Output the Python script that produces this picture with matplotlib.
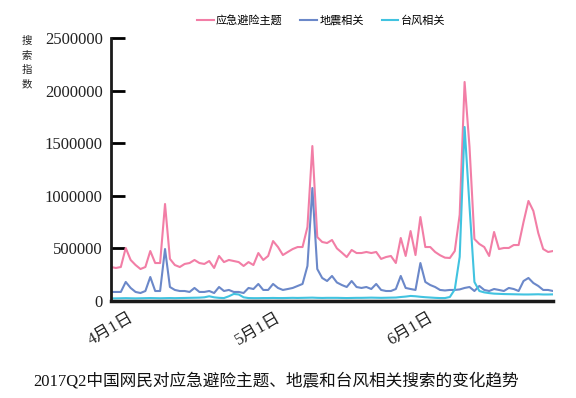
import matplotlib
matplotlib.use("Agg")
import matplotlib.pyplot as plt
import matplotlib.dates as mdates
import pandas as pd

plt.rcParams['font.family'] = ['Liberation Serif', 'Noto Sans CJK SC', 'DejaVu Sans']

dates = pd.date_range("2017-04-01", "2017-06-30", freq="D")

emergency = [323, 314, 323, 504, 390, 342, 304, 323, 475, 361,
             361, 922, 400, 342, 323, 352, 361, 390, 361, 352,
             380, 314, 428, 370, 390, 380, 370, 333, 370, 342,
             456, 390, 428, 570, 513, 437, 466, 494, 513, 513,
             703, 1473, 608, 561, 551, 580, 500, 460, 418, 485,
             456, 456, 466, 456, 466, 400, 418, 428, 361, 599,
             428, 665, 437, 798, 513, 513, 466, 435, 412, 409,
             475, 820, 2082, 1464, 589, 542, 513, 428, 656, 494,
             504, 504, 532, 532, 751, 951, 856, 646, 494, 466, 475]

quake = [86, 86, 86, 181, 124, 86, 76, 95, 228, 95,
         95, 494, 133, 105, 95, 95, 86, 124, 86, 86,
         95, 76, 133, 95, 105, 86, 86, 76, 124, 114,
         162, 105, 105, 162, 124, 105, 114, 124, 143, 162,
         333, 1074, 304, 219, 190, 238, 176, 152, 133, 190,
         133, 124, 133, 114, 162, 105, 95, 95, 114, 238,
         124, 114, 105, 361, 181, 152, 133, 105, 100, 105,
         105, 110, 124, 133, 95, 143, 105, 95, 114, 105,
         95, 124, 114, 95, 190, 219, 171, 143, 105, 105, 95]

typhoon = [25, 25, 26, 27, 26, 25, 26, 27, 28, 27,
           26, 27, 28, 27, 28, 29, 30, 31, 32, 35,
           45, 35, 30, 28, 45, 67, 62, 35, 28, 27,
           27, 28, 28, 29, 28, 28, 29, 30, 29, 30,
           31, 32, 30, 29, 30, 30, 30, 29, 28, 29,
           30, 30, 31, 32, 31, 30, 31, 32, 33, 38,
           42, 48, 45, 40, 36, 33, 30, 28, 28, 38,
           110, 420, 1654, 900, 181, 95, 82, 75, 70, 68,
           66, 65, 64, 63, 62, 62, 63, 64, 62, 62, 63]

series_names = ["应急避险主题", "地震相关", "台风相关"]
colors = ["#F27EA6", "#6B88C9", "#41C3E0"]
yticks = [0, 500000, 1000000, 1500000, 2000000, 2500000]
xtick_dates = ["2017-04-01", "2017-05-01", "2017-06-01"]
xtick_labels = ["4月1日", "5月1日", "6月1日"]
title = "2017Q2中国网民对应急避险主题、地震和台风相关搜索的变化趋势"
ylabel = "搜索指数"

fig = plt.figure(figsize=(5.76, 3.98), dpi=100)
ax = fig.add_axes([111/576, 1-301/398, (553-111)/576, (301-38)/398])

for vals, name, c in zip([emergency, quake, typhoon], series_names, colors):
    ax.plot(dates, [v * 1000 for v in vals], color=c, lw=1.5, label=name)

ax.set_xlim(dates[0], dates[-1])
ax.set_ylim(0, 2500000)
ax.set_yticks(yticks)
ax.set_yticklabels([str(v) for v in yticks], fontsize=12, color="#222222")
ax.set_xticks(pd.to_datetime(xtick_dates))
ax.set_xticklabels(xtick_labels, fontsize=12, rotation=30, ha="center", color="#222222")
ax.tick_params(axis="y", direction="in", length=10, width=2, pad=6)
ax.tick_params(axis="x", length=0, pad=6)
for s in ["top", "right"]:
    ax.spines[s].set_visible(False)
ax.spines["left"].set_linewidth(2)
ax.spines["bottom"].set_linewidth(2.5)
ax.spines["left"].set_color("#1a1a1a")
ax.spines["bottom"].set_color("#1a1a1a")

fig.legend(loc="center", bbox_to_anchor=(321/576, 1-20/398), ncol=3, frameon=False,
           prop={"family": ["Noto Sans CJK SC"], "size": 8},
           handlelength=1.5, handletextpad=0.2, columnspacing=1.6)

fig.text(27/576, 1-63/398, "\n".join(ylabel), ha="center", va="center",
         fontsize=7.5, linespacing=1.55, family=["Noto Sans CJK SC"], color="#222222")
fig.text(276/576, 1-381/398, title, ha="center", va="center", fontsize=12, color="#111111")

fig.savefig("out.png", dpi=100)
